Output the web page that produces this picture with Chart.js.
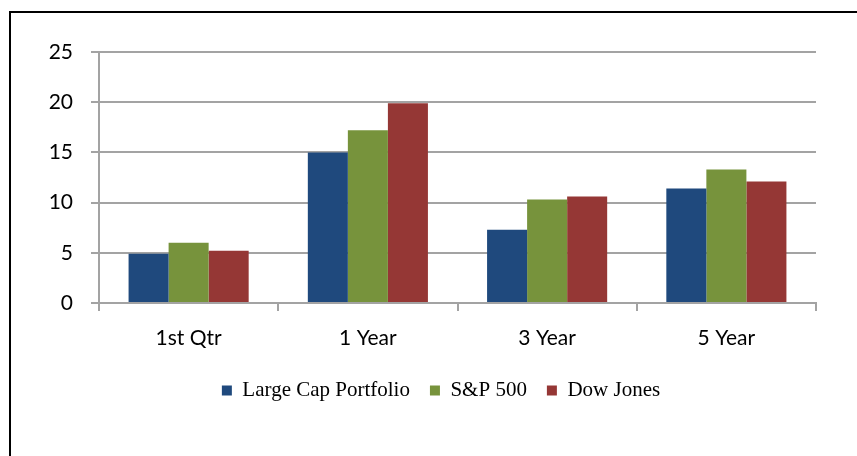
<!DOCTYPE html>
<html>
<head>
<meta charset="utf-8">
<script src="https://cdn.jsdelivr.net/npm/chart.js@4.4.0/dist/chart.umd.min.js"></script>
<style>
  html, body { margin: 0; padding: 0; background: #fff; }
  #wrap { position: relative; width: 857px; height: 456px; }
  #frame { position: absolute; left: 9px; top: 11px; right: 0; bottom: 0;
           border-left: 2px solid #000; border-top: 2px solid #000; }
  canvas { position: absolute; left: 0; top: 0; }
</style>
</head>
<body>
<div id="wrap">
  <div id="frame"></div>
  <canvas id="returnsChart" width="857" height="456"></canvas>
</div>
<script>
const categories = ['1st Qtr', '1 Year', '3 Year', '5 Year'];
const largeCap = [4.9, 15.0, 7.3, 11.4];
const sp500 = [6.0, 17.2, 10.3, 13.3];
const dowJones = [5.2, 19.9, 10.6, 12.1];
const yTicks = [0, 5, 10, 15, 20, 25];

const gridColor = '#a3a3a3';
const tickFont = { family: 'Lato', size: 21 };

const ctx = document.getElementById('returnsChart').getContext('2d');

new Chart(ctx, {
   type: 'bar',
   data: {
      labels: categories,
      datasets: [
         { label: 'Large Cap Portfolio', data: largeCap, backgroundColor: '#1f497d' },
         { label: 'S&P 500', data: sp500, backgroundColor: '#77933c' },
         { label: 'Dow Jones', data: dowJones, backgroundColor: '#953735' }
      ]
   },
   options: {
      responsive: false,
      animation: false,
      datasets: {
         bar: { categoryPercentage: 0.67, barPercentage: 1.0 }
      },
      layout: { padding: { left: 49, right: 24, top: 52, bottom: 45 } },
      scales: {
         x: {
            grid: { display: true, drawOnChartArea: false, offset: true, color: gridColor, lineWidth: 2, tickLength: 8 },
            border: { color: gridColor, width: 2 },
            ticks: { color: '#000', font: tickFont, padding: 15, maxRotation: 0 },
            afterFit: s => { s.height = 57; }
         },
         y: {
            min: 0,
            max: 25,
            afterBuildTicks: s => { s.ticks = yTicks.map(v => ({ value: v })); },
            grid: { color: gridColor, lineWidth: 2, tickLength: 8 },
            border: { color: gridColor, width: 2 },
            ticks: { color: '#000', font: tickFont, padding: 18 },
            afterFit: s => { s.width = 50; }
         },
         // empty spacer on the right so the legend sits where it does in the original
         spacer: {
            type: 'linear',
            position: 'right',
            grid: { display: false },
            border: { display: false },
            ticks: { display: false },
            afterFit: s => { s.width = 17; }
         }
      },
      plugins: {
         legend: {
            position: 'bottom',
            labels: {
               color: '#000',
               font: { family: 'Liberation Serif', size: 21 },
               boxWidth: 10,
               boxHeight: 10,
               padding: 20
            }
         },
         tooltip: { enabled: false }
      }
   }
});
</script>
</body>
</html>
